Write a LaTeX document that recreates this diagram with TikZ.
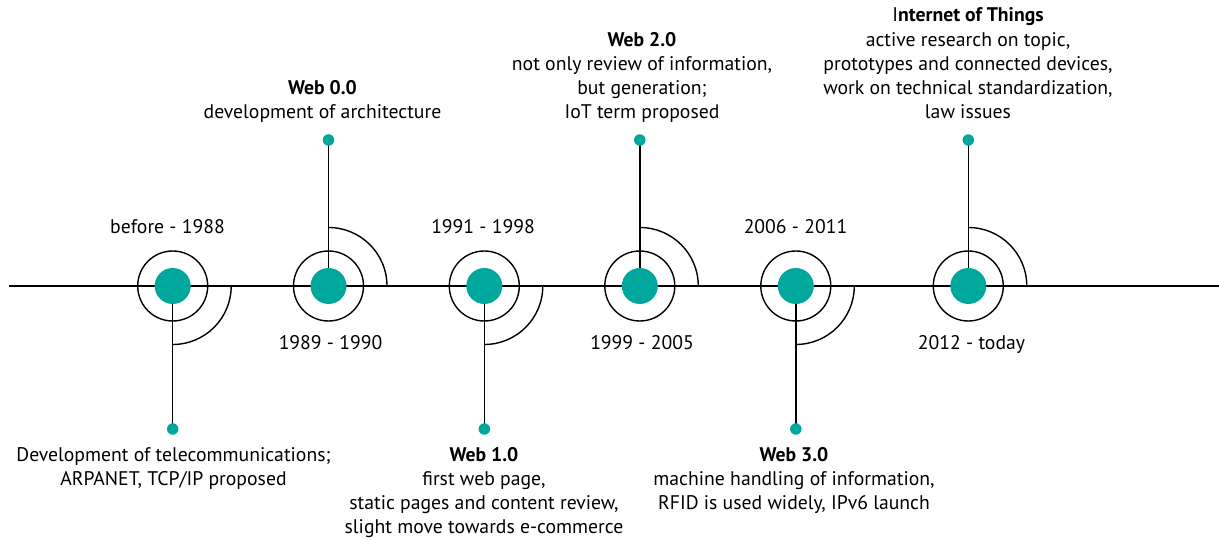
\documentclass[tikz,border=0pt]{standalone}
\usepackage{fontspec}
\setmainfont{PT Sans}
\usetikzlibrary{backgrounds}
\definecolor{hubteal}{HTML}{00A79D}
\begin{document}
\begin{tikzpicture}[x=1pt,y=-1pt,
  rule/.style={line width=1.4pt, black},
  hub/.style={circle, fill=hubteal, minimum size=36pt, inner sep=0pt},
  ring/.style={circle, draw, line width=1.4pt, minimum size=70pt, inner sep=0pt},
  pin/.style={circle, fill=hubteal, minimum size=11.5pt, inner sep=0pt},
  era/.style={font=\fontsize{19.7}{24.2}\selectfont, inner sep=0pt, anchor=base},
  note/.style={font=\fontsize{19.7}{24.2}\selectfont, inner sep=0pt, align=center, anchor=north},
]
\useasboundingbox (0,0) rectangle (1219,540);

% timeline ends
\coordinate (axisL) at (9,286);
\coordinate (axisR) at (1219,286);

% milestones: ring + filled hub
\foreach \n/\x in {1/172.7, 2/328.5, 3/484.3, 4/639.8, 5/795.8, 6/968.3} {
  \node[ring] (r\n) at (\x,286) {};
  \node[hub] (h\n) at (\x,286) {};
}

% end dots of the stems
\node[pin] (p1) at (172.7,429) {};
\node[pin] (p2) at (328.5,140) {};
\node[pin] (p3) at (484.3,429) {};
\node[pin] (p4) at (639.8,140) {};
\node[pin] (p5) at (795.8,429) {};
\node[pin] (p6) at (968.3,140) {};

\begin{scope}[on background layer]
  \draw[rule] (axisL) -- (axisR);
  \foreach \n in {1,...,6} \draw[rule] (h\n.center) -- (p\n.center);
  \foreach \n in {1,3,5}
    \draw[rule] ([xshift=58.5pt]h\n.center) arc[start angle=0, end angle=-90, radius=58.5pt];
  \foreach \n in {2,4,6}
    \draw[rule] ([xshift=58.5pt]h\n.center) arc[start angle=0, end angle=90, radius=58.5pt];
\end{scope}

% periods
\node[era] (y1) at (167.5,233.3) {before - 1988};
\node[era] (y2) at (330.5,349) {1989 - 1990};
\node[era] (y3) at (483,233.3) {1991 - 1998};
\node[era] (y4) at (642,349) {1999 - 2005};
\node[era] (y5) at (795.5,233.3) {2006 - 2011};
\node[era] (y6) at (971.5,349) {2012 - today};

% descriptions
\node[note] (n1) at (173.5,444.1) {\strut Development of telecommunications;\\ARPANET, TCP/IP proposed};
\node[note] (n2) at (322.5,77.1) {\strut\textbf{Web 0.0}\\development of architecture};
\node[note] (n3) at (484,444.1) {\strut\textbf{Web 1.0}\\first web page,\\static pages and content review,\\slight move towards e-commerce};
\node[note] (n4) at (642,29.1) {\strut\textbf{Web 2.0}\\not only review of information,\\but generation;\\IoT term proposed};
\node[note] (n5) at (794,444.1) {\strut\textbf{Web 3.0}\\machine handling of information,\\RFID is used widely, IPv6 launch};
\node[note] (n6) at (968,4.8) {\strut I\textbf{nternet of Things}\\active research on topic,\\prototypes and connected devices,\\work on technical standardization,\\law issues};
\end{tikzpicture}
\end{document}
